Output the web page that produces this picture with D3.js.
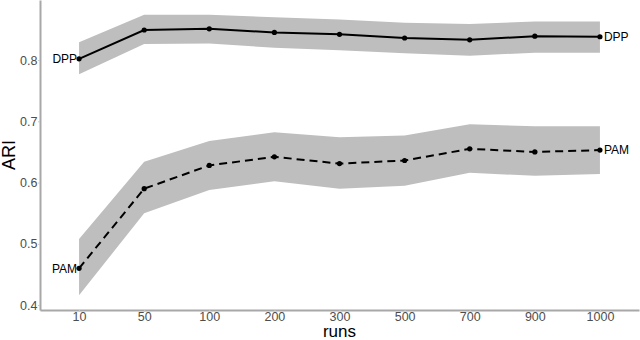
<!DOCTYPE html>
<html>
<head>
<meta charset="utf-8">
<script src="https://cdn.jsdelivr.net/npm/d3@7"></script>
<style>
  body { margin: 0; background: #fff; }
  svg { font-family: "Liberation Sans", Arial, sans-serif; }
</style>
</head>
<body>
<script>
var width  = 640,
    height = 340;

var runs = ['10', '50', '100', '200', '300', '500', '700', '900', '1000'];
var yTicks = [0.4, 0.5, 0.6, 0.7, 0.8];

var dppMean  = [0.802, 0.849, 0.851, 0.845, 0.842, 0.836, 0.833, 0.839, 0.838];
var dppUpper = [0.829, 0.874, 0.874, 0.870, 0.866, 0.861, 0.859, 0.863, 0.863];
var dppLower = [0.777, 0.826, 0.827, 0.820, 0.816, 0.811, 0.807, 0.812, 0.812];

var pamMean  = [0.460, 0.590, 0.628, 0.642, 0.631, 0.636, 0.655, 0.650, 0.653];
var pamUpper = [0.508, 0.634, 0.668, 0.682, 0.674, 0.677, 0.695, 0.692, 0.692];
var pamLower = [0.416, 0.550, 0.588, 0.602, 0.590, 0.595, 0.616, 0.611, 0.614];

var series = [
  {name: 'DPP', mean: dppMean, upper: dppUpper, lower: dppLower, dash: null},
  {name: 'PAM', mean: pamMean, upper: pamUpper, lower: pamLower, dash: '8,5'}
];

var margin = {left: 40, right: 1, top: 0, bottom: 30};

var svg = d3.select('body').append('svg')
    .attr('width', width)
    .attr('height', height);

var x = d3.scalePoint()
    .domain(runs)
    .range([margin.left, width - margin.right])
    .padding(0.6);

var y = d3.scaleLinear()
    .domain([0.392, 0.898])
    .range([height - margin.bottom, margin.top]);

// ribbons first
var area = d3.area()
    .x(function(d) { return x(d.run); })
    .y0(function(d) { return y(d.lo); })
    .y1(function(d) { return y(d.hi); });

var line = d3.line()
    .x(function(d) { return x(d.run); })
    .y(function(d) { return y(d.v); });

series.forEach(function(s) {
  var pts = runs.map(function(r, i) {
    return {run: r, v: s.mean[i], lo: s.lower[i], hi: s.upper[i]};
  });
  s.pts = pts;
  svg.append('path')
      .datum(pts)
      .attr('d', area)
      .attr('fill', '#bebebe');
});

series.forEach(function(s) {
  svg.append('path')
      .datum(s.pts)
      .attr('d', line)
      .attr('fill', 'none')
      .attr('stroke', '#000')
      .attr('stroke-width', 2)
      .attr('stroke-dasharray', s.dash);

  svg.selectAll(null)
      .data(s.pts)
      .enter().append('circle')
      .attr('cx', function(d) { return x(d.run); })
      .attr('cy', function(d) { return y(d.v); })
      .attr('r', 2.6)
      .attr('fill', '#000');

  var first = s.pts[0], last = s.pts[s.pts.length - 1];
  svg.append('text')
      .attr('x', x(first.run) - 2)
      .attr('y', y(first.v))
      .attr('dy', '0.35em')
      .attr('text-anchor', 'end')
      .attr('font-size', 12)
      .text(s.name);
  svg.append('text')
      .attr('x', x(last.run) + 4)
      .attr('y', y(last.v))
      .attr('dy', '0.35em')
      .attr('text-anchor', 'start')
      .attr('font-size', 12)
      .text(s.name);
});

// axes
var xAxis = svg.append('g')
    .attr('transform', 'translate(0,' + (height - margin.bottom) + ')')
    .call(d3.axisBottom(x).tickSizeInner(2).tickSizeOuter(0).tickPadding(0));

var yAxis = svg.append('g')
    .attr('transform', 'translate(' + margin.left + ',0)')
    .call(d3.axisLeft(y).tickValues(yTicks).tickFormat(d3.format('.1f'))
      .tickSizeInner(2).tickSizeOuter(0).tickPadding(0.5));

[xAxis, yAxis].forEach(function(g) {
  g.select('.domain').attr('stroke', '#a8a8a8').attr('stroke-width', 2);
  g.selectAll('.tick line').attr('stroke', '#c8c8c8');
  g.selectAll('.tick text')
      .attr('fill', '#4d4d4d')
      .attr('font-size', 12.5)
      .attr('font-family', '"Liberation Sans", Arial, sans-serif');
});

svg.append('text')
    .attr('x', (margin.left + width - margin.right) / 2)
    .attr('y', 337)
    .attr('text-anchor', 'middle')
    .attr('font-size', 17)
    .text('runs');

svg.append('text')
    .attr('transform', 'translate(15,155) rotate(-90)')
    .attr('text-anchor', 'middle')
    .attr('font-size', 18)
    .text('ARI');
</script>
</body>
</html>
